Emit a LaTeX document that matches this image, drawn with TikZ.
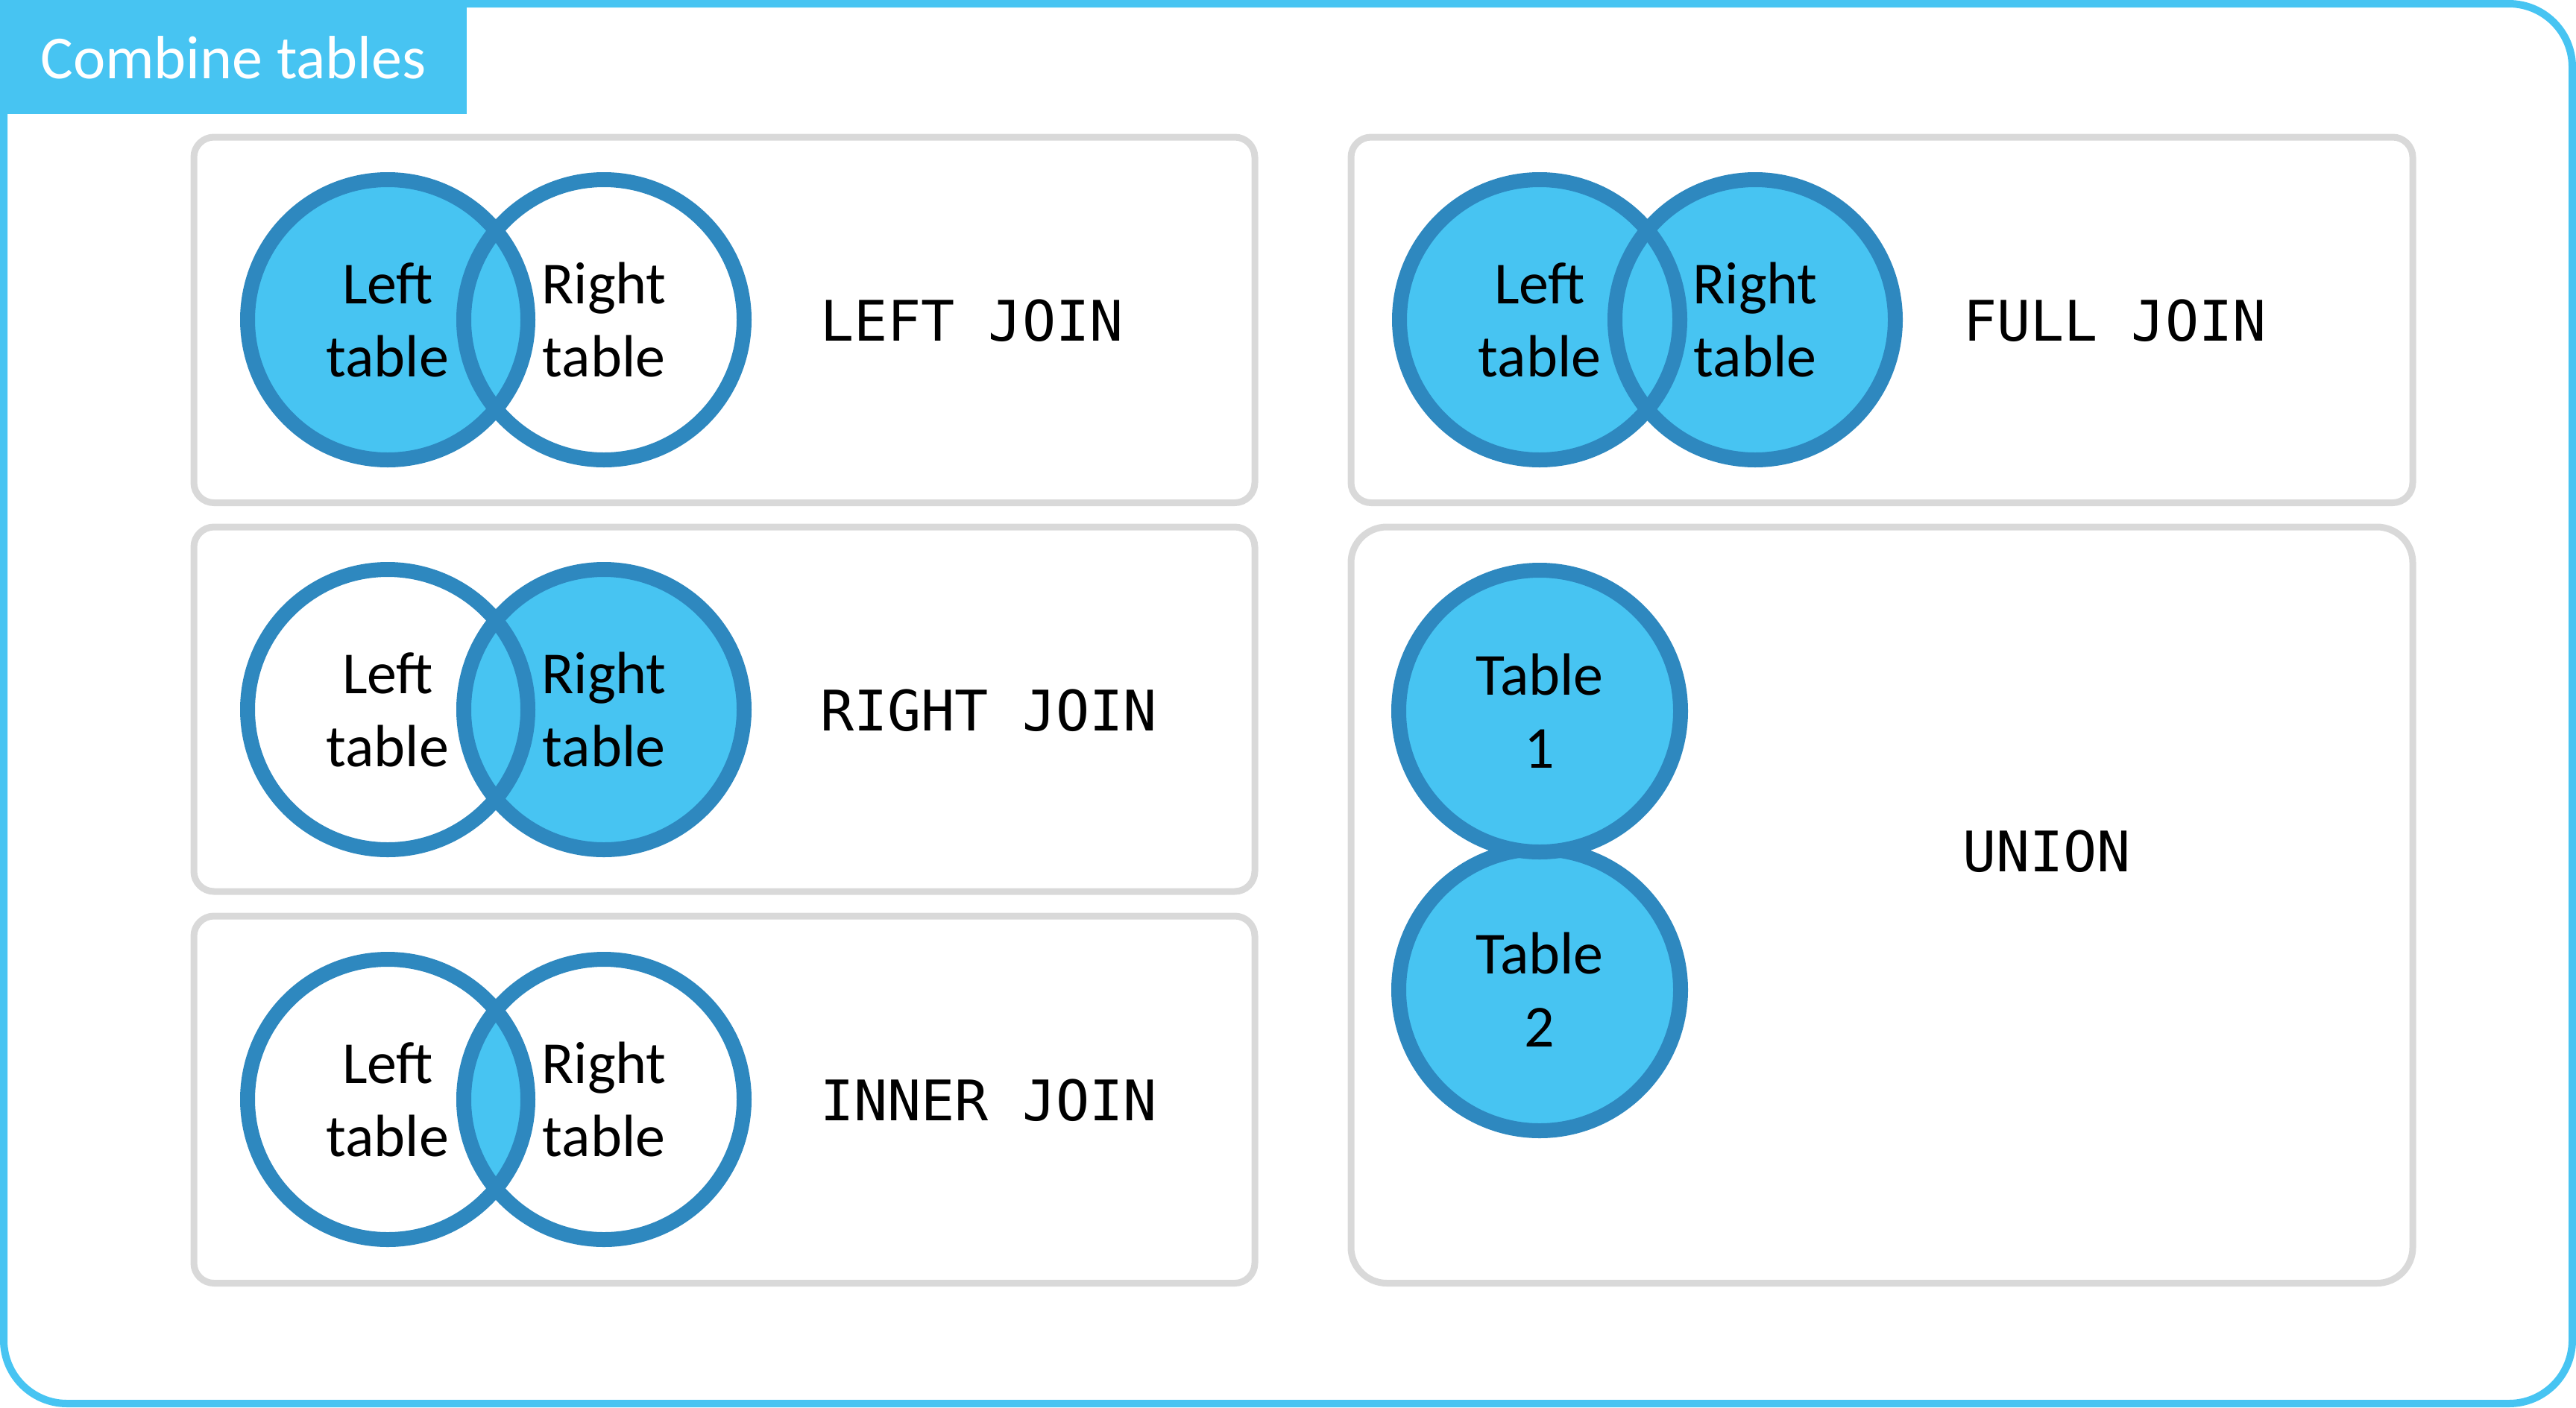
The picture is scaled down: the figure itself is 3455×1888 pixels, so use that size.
\documentclass[tikz,border=0pt]{standalone}
\usepackage{fontspec}
\setmainfont{Carlito}
\newfontfamily\monof{DejaVu Sans Mono}
\definecolor{lblue}{RGB}{71,196,242}
\definecolor{dblue}{RGB}{46,136,191}
\definecolor{pgray}{RGB}{217,217,217}
\tikzset{
  frame/.style={draw=lblue, line width=10pt, rounded corners=85pt},
  panel/.style={draw=pgray, line width=9pt, rounded corners=27pt},
  bigpanel/.style={draw=pgray, line width=9pt, rounded corners=48pt},
  vfill/.style={fill=lblue},
  vline/.style={draw=dblue, line width=20pt},
  vtext/.style={align=center, inner sep=0pt, text=black, font=\fontsize{80}{98}\selectfont},
  mono/.style={anchor=base west, inner sep=0pt, text=black, font=\monof\fontsize{75}{90}\selectfont},
}
\begin{document}
\begin{tikzpicture}[x=1pt,y=-1pt]
\useasboundingbox (0,0) rectangle (3455,1888);
% outer frame
\draw[frame] (5,5) rectangle (3450,1883);
% title
\fill[lblue] (0,0) rectangle (626,153);
\node[anchor=base, inner sep=0pt, text=white, font=\fontsize{82}{98}\selectfont] (title) at (313,105) {Combine tables};
% panels
\draw[panel] (260,184) rectangle (1683,674.5);
\draw[panel] (260,707) rectangle (1683,1196);
\draw[panel] (260,1229) rectangle (1683,1721.5);
\draw[panel] (1812,184) rectangle (3236,674.5);
\draw[bigpanel] (1812,707) rectangle (3236,1721.5);
% centers
\coordinate (a1) at (520,429);  \coordinate (a2) at (810,429);
\coordinate (b1) at (520,952);  \coordinate (b2) at (810,952);
\coordinate (c1) at (520,1475); \coordinate (c2) at (810,1475);
\coordinate (d1) at (2065,429); \coordinate (d2) at (2354,429);
\coordinate (u1) at (2065,954); \coordinate (u2) at (2065,1328);
% LEFT JOIN
\fill[vfill] (a1) circle (188pt);
\draw[vline] (a1) circle (188pt);
\draw[vline] (a2) circle (188pt);
% RIGHT JOIN
\fill[vfill] (b2) circle (188pt);
\draw[vline] (b1) circle (188pt);
\draw[vline] (b2) circle (188pt);
% INNER JOIN
\begin{scope}
  \clip (c1) circle (188pt);
  \fill[vfill] (c2) circle (188pt);
\end{scope}
\draw[vline] (c1) circle (188pt);
\draw[vline] (c2) circle (188pt);
% FULL JOIN
\fill[vfill] (d1) circle (188pt);
\fill[vfill] (d2) circle (188pt);
\draw[vline] (d1) circle (188pt);
\draw[vline] (d2) circle (188pt);
% UNION
\fill[vfill] (u2) circle (189pt);
\draw[vline] (u2) circle (189pt);
\fill[vfill] (u1) circle (189pt);
\draw[vline] (u1) circle (189pt);
% circle texts
\node[vtext] (ta1) at (a1) {Left\\table};
\node[vtext] (ta2) at (a2) {Right\\table};
\node[vtext] (tb1) at (b1) {Left\\table};
\node[vtext] (tb2) at (b2) {Right\\table};
\node[vtext] (tc1) at (c1) {Left\\table};
\node[vtext] (tc2) at (c2) {Right\\table};
\node[vtext] (td1) at (d1) {Left\\table};
\node[vtext] (td2) at (d2) {Right\\table};
\node[vtext] (tu1) at (u1) {Table\\1};
\node[vtext] (tu2) at (u2) {Table\\2};
% labels
\node[mono] (lleft) at (1100,457) {LEFT JOIN};
\node[mono] (lright) at (1100,980) {RIGHT JOIN};
\node[mono] (linner) at (1100,1503) {INNER JOIN};
\node[mono] (lfull) at (2633,457) {FULL JOIN};
\node[mono] (lunion) at (2632,1169) {UNION};
\end{tikzpicture}
\end{document}
